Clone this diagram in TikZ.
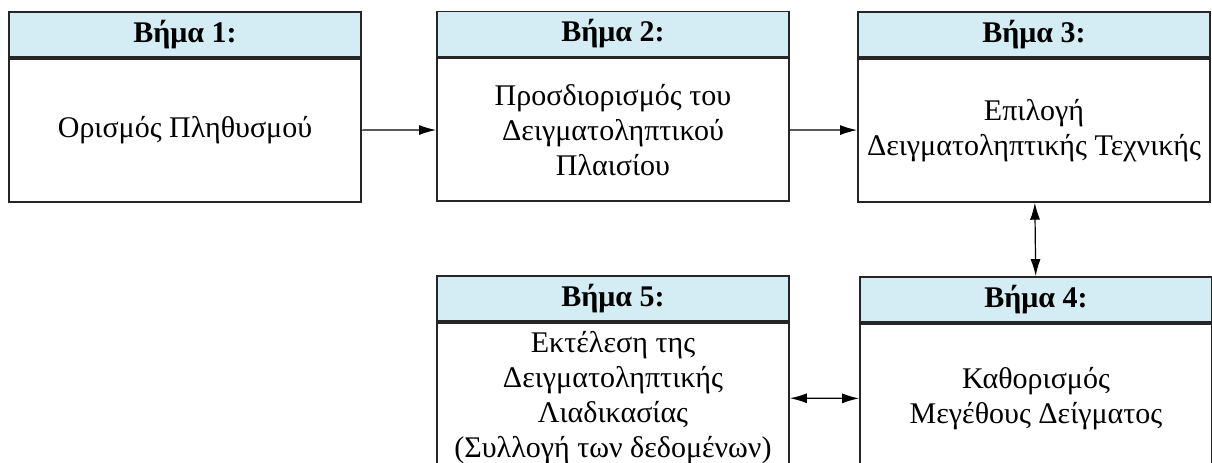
\documentclass[tikz,border=0pt]{standalone}
\usepackage{fontspec}
\setmainfont{Liberation Serif}
\usetikzlibrary{arrows.meta}
\usetikzlibrary{positioning}
\definecolor{headblue}{RGB}{212,236,244}
\tikzset{
  head/.style={draw=black!85,line width=0.9pt,fill=headblue,minimum width=176pt,minimum height=22.5pt,inner sep=0pt,font=\fontsize{15}{17}\selectfont\bfseries},
  body/.style={draw=black!85,line width=0.9pt,fill=white,minimum width=176pt,minimum height=71.5pt,inner sep=0pt,align=center,font=\fontsize{15}{17.5}\selectfont},
  bodylow/.style={body,minimum height=75pt},
  sep/.style={black!85,line width=1.5pt},
  link/.style={line width=0.6pt,-{Latex[length=8.5pt,width=5pt]}},
  dlink/.style={line width=0.6pt,{Latex[length=8.5pt,width=5pt]}-{Latex[length=8.5pt,width=5pt]}}
}
\begin{document}
\begin{tikzpicture}[x=0.5pt,y=-0.5pt]
\useasboundingbox[fill=white] (0,0) rectangle (1212,462);
\node[head] (h1) at (185,34.5) {Βήμα 1:};
\node[body,below=0pt of h1] (b1) {Ορισμός Πληθυσμού};
\node[head] (h2) at (613,34) {Βήμα 2:};
\node[body,below=0pt of h2] (b2) {Προσδιορισμός του\\Δειγματοληπτικού\\Πλαισίου};
\node[head] (h3) at (1034,34.5) {Βήμα 3:};
\node[body,below=0pt of h3] (b3) {Επιλογή\\Δειγματοληπτικής Τεχνικής};
\node[head] (h4) at (1036,299.5) {Βήμα 4:};
\node[bodylow,below=0pt of h4] (b4) {Καθορισμός\\Μεγέθους Δείγματος};
\node[head] (h5) at (613,298.5) {Βήμα 5:};
\node[bodylow,below=0pt of h5] (b5) {Εκτέλεση της\\Δειγματοληπτικής\\Λιαδικασίας\\(Συλλογή των δεδομένων)};
\foreach \n in {1,...,5}
  \draw[sep] (h\n.south west) -- (h\n.south east);
\draw[link] (b1) -- (b2);
\draw[link] (b2) -- (b3);
\draw[dlink] (b3) -- (h4);
\draw[dlink] (b5) -- (b4);
\end{tikzpicture}
\end{document}
